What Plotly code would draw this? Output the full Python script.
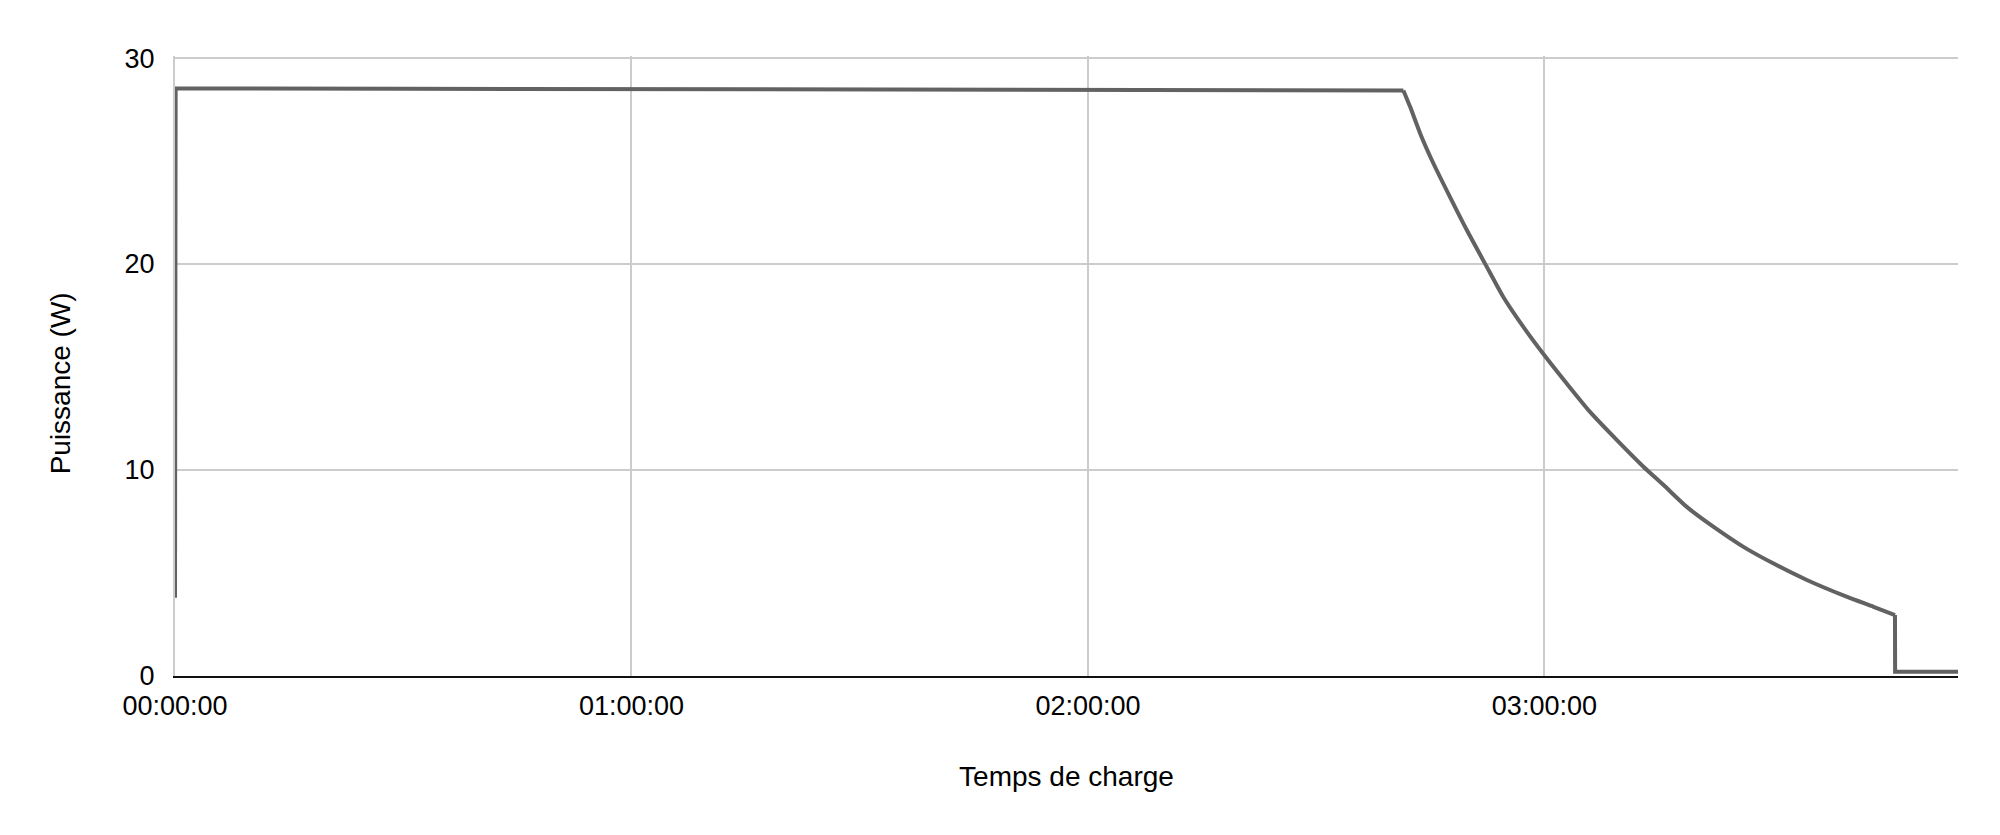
import plotly.graph_objects as go

BASE_DATE = "2024-01-01 "

temps = [
    "00:00:00", "00:00:05", "00:30:00", "01:00:00", "01:30:00", "02:00:00",
    "02:30:00", "02:41:28", "02:42:22", "02:43:41", "02:45:25", "02:47:35",
    "02:49:48", "02:52:12", "02:54:36", "02:57:14", "03:00:00", "03:02:56",
    "03:06:00", "03:09:32", "03:13:01", "03:15:40", "03:18:43", "03:22:12",
    "03:26:10", "03:30:04", "03:34:30", "03:39:43", "03:43:16", "03:46:05",
    "03:46:06", "03:54:22",
]
puissance = [
    3.8, 28.52, 28.51, 28.49, 28.48, 28.47,
    28.45, 28.43, 27.62, 26.33, 24.88, 23.26,
    21.65, 20.02, 18.40, 16.95, 15.57, 14.20,
    12.82, 11.45, 10.16, 9.27, 8.21, 7.25,
    6.27, 5.47, 4.66, 3.85, 3.36, 2.96,
    0.21, 0.21,
]

y_ticks = [0, 10, 20, 30]
x_range = ["00:00:00", "03:54:22"]

FONT = "Liberation Sans, Arial, sans-serif"
LINE = dict(color="#626262", width=4)

x_vals = [BASE_DATE + t for t in temps]
debut_chute = temps.index("02:41:28")
fin_chute = temps.index("03:46:05")

fig = go.Figure()
# palier, décroissance (lissée) puis coupure
segments = [
    (0, debut_chute + 1, "linear"),
    (debut_chute, fin_chute + 1, "spline"),
    (fin_chute, len(temps), "linear"),
]
for start, end, shape in segments:
    fig.add_trace(go.Scatter(
        x=x_vals[start:end],
        y=puissance[start:end],
        mode="lines",
        line=dict(**LINE, shape=shape, smoothing=0.6) if shape == "spline" else dict(**LINE),
        showlegend=False,
    ))

# la page ajoute 8 px de marge autour du graphique : on compense ici
fig.update_layout(
    width=1984,
    height=819,
    margin=dict(l=167, r=34, t=48, b=151),
    paper_bgcolor="white",
    plot_bgcolor="white",
    font=dict(family=FONT, size=27, color="#000000"),
    annotations=[dict(
        text="Puissance (W)",
        xref="paper", yref="paper",
        x=0, y=0.472, xshift=-115,
        xanchor="center", yanchor="middle",
        textangle=-90, showarrow=False,
        font=dict(size=28),
    )],
)
fig.update_xaxes(
    type="date",
    range=[BASE_DATE + x_range[0], BASE_DATE + x_range[1]],
    tick0=BASE_DATE + "00:00:00",
    dtick=3600000,
    tickformat="%H:%M:%S",
    showgrid=True,
    gridcolor="#cccccc",
    gridwidth=2,
    showline=True,
    linecolor="#111111",
    linewidth=2,
    ticks="",
    ticklabelstandoff=5,
    title=dict(text="Temps de charge", standoff=46, font=dict(size=28)),
)
fig.update_yaxes(
    range=[0, 30.1],
    tickvals=y_ticks,
    showgrid=True,
    gridcolor="#cccccc",
    gridwidth=2,
    zeroline=False,
    showline=True,
    linecolor="#cccccc",
    linewidth=2,
    ticks="",
    ticklabelstandoff=13,
)

fig.write_html("out.html")
